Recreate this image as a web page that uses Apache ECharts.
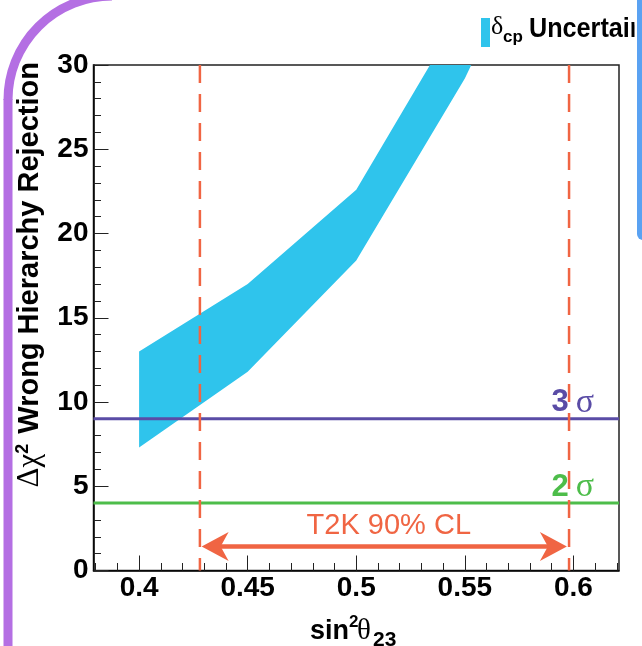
<!DOCTYPE html>
<html><head><meta charset="utf-8">
<script src="https://cdn.jsdelivr.net/npm/echarts@6/dist/echarts.min.js"></script>
<style>html,body{margin:0;padding:0;background:#fff}#c{width:642px;height:646px}</style>
</head><body><div id="c"></div>
<script>
// ---- data ----
const xRange = [0.379, 0.621];
const yRange = [0, 30];
const xTicksMajor = [0.4, 0.45, 0.5, 0.55, 0.6];
const xTicksMinor = [0.38, 0.39, 0.40, 0.41, 0.42, 0.43, 0.44, 0.45, 0.46, 0.47, 0.48, 0.49, 0.50, 0.51, 0.52, 0.53, 0.54, 0.55, 0.56, 0.57, 0.58, 0.59, 0.60, 0.61, 0.62];
const sin2Theta23 = [0.40, 0.45, 0.50, 0.55, 0.60];
const chi2Lower = [7.3, 11.8, 18.4, 29.2, 42.7];
const chi2Upper = [13.0, 17.0, 22.6, 33.5, 44.5];
const sigmaLevels = [9, 4];
const sigmaNames = ['3', '2'];
const sigmaColors = ['#5a4ca6', '#4dbd4a'];
const t2kRange = [0.428, 0.598];
const arrowRange = [0.4288, 0.597];
const arrowY = 1.42;
const t2kText = 'T2K 90% CL';
const t2kTextPos = [0.515, 2.65];
const sigmaLabelX = 0.5975;

const ORANGE = '#f06543';
const CYAN = '#2fc4ec';
const SANS = '"Liberation Sans", Arial, Helvetica, sans-serif';
const SERIF = '"Liberation Serif", "Times New Roman", serif';

const chart = echarts.init(document.getElementById('c'), null, {renderer: 'canvas'});

function clipRect(cs) { return {type: 'rect', shape: {x: cs.x, y: cs.y, width: cs.width, height: cs.height}}; }

const series = [];
// band
series.push({
  type: 'custom', coordinateSystem: 'cartesian2d', silent: true, z: 2,
  data: [[0.5, 15]],
  renderItem(params, api) {
    const pts = [];
    for (let i = 0; i < sin2Theta23.length; i++) pts.push(api.coord([sin2Theta23[i], chi2Upper[i]]));
    for (let i = sin2Theta23.length - 1; i >= 0; i--) pts.push(api.coord([sin2Theta23[i], chi2Lower[i]]));
    return {type: 'polygon', shape: {points: pts}, style: {fill: CYAN}, clipPath: clipRect(params.coordSys)};
  }
});
// sigma lines
sigmaLevels.forEach((lv, i) => {
  series.push({
    type: 'line', silent: true, z: 3, symbol: 'none', animation: false,
    data: [[xRange[0], lv], [xRange[1], lv]],
    lineStyle: {color: sigmaColors[i], width: 3}
  });
});
// dashed T2K lines
t2kRange.forEach(v => {
  series.push({
    type: 'line', silent: true, z: 4, symbol: 'none', animation: false,
    data: [[v, yRange[1]], [v, yRange[0]]],
    lineStyle: {color: ORANGE, width: 2.5, type: [18, 11]}
  });
});
// arrow + annotations
series.push({
  type: 'custom', coordinateSystem: 'cartesian2d', silent: true, z: 5,
  data: [[0.5, 1]],
  renderItem(params, api) {
    const a = api.coord([arrowRange[0], arrowY]);
    const b = api.coord([arrowRange[1], arrowY]);
    const hl = 27, hw = 14.5, notch = 19;
    const children = [
      {type: 'line', shape: {x1: a[0] + notch - 2, y1: a[1], x2: b[0] - notch + 2, y2: b[1]}, style: {stroke: ORANGE, lineWidth: 4.5}},
      {type: 'polygon', shape: {points: [[a[0], a[1]], [a[0] + hl, a[1] - hw], [a[0] + notch, a[1]], [a[0] + hl, a[1] + hw]]}, style: {fill: ORANGE}},
      {type: 'polygon', shape: {points: [[b[0], b[1]], [b[0] - hl, b[1] - hw], [b[0] - notch, b[1]], [b[0] - hl, b[1] + hw]]}, style: {fill: ORANGE}}
    ];
    const tp = api.coord(t2kTextPos);
    children.push({type: 'text', x: tp[0], y: tp[1], style: {text: t2kText, fill: ORANGE, font: '29px ' + SANS, align: 'center', verticalAlign: 'middle'}});
    sigmaLevels.forEach((lv, i) => {
      const p = api.coord([sigmaLabelX, lv]);
      children.push({type: 'text', x: p[0] - 16.5, y: p[1] + 1, style: {
        text: '{n|' + sigmaNames[i] + '}{s|σ}', fill: sigmaColors[i], align: 'left', verticalAlign: 'bottom',
        rich: {n: {fontSize: 31, fontWeight: 'bold', fontFamily: SANS, fill: sigmaColors[i]},
               s: {fontSize: 34, fontFamily: SERIF, fill: sigmaColors[i], padding: [0, 0, 0, 7]}}
      }});
    });
    return {type: 'group', children};
  }
});

const option = {
  animation: false,
  backgroundColor: '#fff',
  grid: {left: 93.5, top: 65, right: 23, bottom: 75.5, show: true, borderColor: '#222', borderWidth: 1.5, backgroundColor: 'transparent'},
  xAxis: [{
    type: 'value', min: xRange[0], max: xRange[1], position: 'bottom',
    axisLine: {show: true, onZero: false, lineStyle: {color: '#000', width: 1.5}},
    axisTick: {show: true, inside: true, length: 15, customValues: xTicksMajor, lineStyle: {color: '#222', width: 1}},
    axisLabel: {show: true, customValues: xTicksMajor, color: '#000', fontFamily: SANS, fontWeight: 'bold', fontSize: 28, margin: 4, formatter: v => String(+(+v).toFixed(2))},
    splitLine: {show: false}
  }, {
    type: 'value', min: xRange[0], max: xRange[1], position: 'bottom',
    axisLine: {show: false, onZero: false},
    axisTick: {show: true, inside: true, length: 7.5, customValues: xTicksMinor, lineStyle: {color: '#222', width: 1}},
    axisLabel: {show: false},
    splitLine: {show: false}
  }],
  yAxis: {
    type: 'value', min: yRange[0], max: yRange[1], interval: 5,
    axisLine: {show: true, onZero: false, lineStyle: {color: '#000', width: 1.5}},
    axisTick: {show: true, inside: true, length: 15, lineStyle: {color: '#222', width: 1}},
    minorTick: {show: true, splitNumber: 5, length: 7.5, lineStyle: {color: '#222', width: 1}},
    axisLabel: {color: '#000', fontFamily: SANS, fontWeight: 'bold', fontSize: 28, margin: 5},
    splitLine: {show: false}, minorSplitLine: {show: false}
  },
  series,
  graphic: [
    // slide decorations
    {type: 'arc', silent: true, z: 100, shape: {cx: 112, cy: 100, r: 104, startAngle: Math.PI, endAngle: Math.PI * 1.5, clockwise: true}, style: {stroke: '#b46fe3', lineWidth: 9, fill: null}},
    {type: 'line', silent: true, z: 100, shape: {x1: 8, y1: 99, x2: 8, y2: 660}, style: {stroke: '#b46fe3', lineWidth: 9}},
    // legend
    {type: 'rect', silent: true, shape: {x: 481, y: 18, width: 9, height: 29}, style: {fill: CYAN}},
    {type: 'text', silent: true, x: 491, y: 40, style: {text: 'δ', font: '26px ' + SERIF, fill: '#000', verticalAlign: 'bottom'}},
    {type: 'text', silent: true, x: 503, y: 46, style: {text: 'cp', font: 'bold 17px ' + SANS, fill: '#000', verticalAlign: 'bottom'}},
    {type: 'text', silent: true, x: 529, y: 43, scaleX: 0.9, style: {text: 'Uncertainty', font: 'bold 28px ' + SANS, fill: '#000', verticalAlign: 'bottom'}},
    {type: 'rect', silent: true, z: 101, shape: {x: 634.5, y: 0, width: 3, height: 60}, style: {fill: '#fff'}},
    {type: 'rect', silent: true, z: 102, shape: {x: 637, y: -10, width: 12, height: 250, r: 6}, style: {fill: '#5aa2f2'}},
    // y title
    {type: 'text', silent: true, x: 30, y: 62, rotation: Math.PI / 2, style: {text: '{g|Δχ}{p|2}{b| Wrong Hierarchy Rejection}', align: 'right', verticalAlign: 'middle',
        rich: {g: {fontFamily: SERIF, fontSize: 31, fill: '#000'}, p: {fontFamily: SANS, fontWeight: 'bold', fontSize: 18, fill: '#000', padding: [0, 2, 14, 0]}, b: {fontFamily: SANS, fontWeight: 'bold', fontSize: 29, fill: '#000'}}}},
    // x title
    {type: 'text', silent: true, x: 310, y: 645, style: {text: 'sin', font: 'bold 27px ' + SANS, fill: '#000', verticalAlign: 'bottom'}},
    {type: 'text', silent: true, x: 349, y: 631, style: {text: '2', font: 'bold 17px ' + SANS, fill: '#000', verticalAlign: 'bottom'}},
    {type: 'text', silent: true, x: 357, y: 646, style: {text: 'θ', font: '29px ' + SERIF, fill: '#000', verticalAlign: 'bottom'}},
    {type: 'text', silent: true, x: 373, y: 651, style: {text: '23', font: 'bold 21px ' + SANS, fill: '#000', verticalAlign: 'bottom'}}
  ]
};
chart.setOption(option);
</script>
</body></html>
